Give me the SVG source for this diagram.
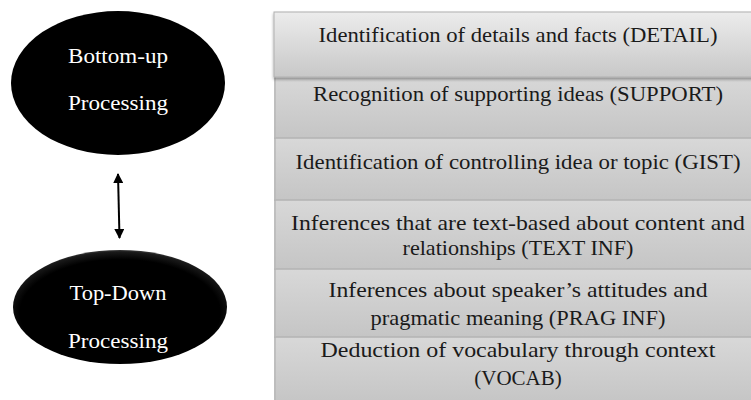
<svg xmlns="http://www.w3.org/2000/svg" width="751" height="400" viewBox="0 0 751 400">
  <defs>
    <linearGradient id="boxGrad" x1="0" y1="0" x2="0" y2="1">
      <stop offset="0" stop-color="#d8d8d8"/>
      <stop offset="1" stop-color="#c5c5c5"/>
    </linearGradient>
    <linearGradient id="box1Grad" x1="0" y1="0" x2="0" y2="1">
      <stop offset="0" stop-color="#ececec"/>
      <stop offset="1" stop-color="#c8c8c8"/>
    </linearGradient>
    <radialGradient id="ellGloss" cx="0.5" cy="0.55" r="0.55">
      <stop offset="0.85" stop-color="#000"/>
      <stop offset="0.97" stop-color="#1a1a1a"/>
      <stop offset="1" stop-color="#3a3a3a"/>
    </radialGradient>
    <filter id="shadow" x="-10%" y="-20%" width="120%" height="150%">
      <feGaussianBlur in="SourceAlpha" stdDeviation="1.5"/>
      <feOffset dx="0" dy="2" result="b"/>
      <feComponentTransfer><feFuncA type="linear" slope="0.35"/></feComponentTransfer>
      <feMerge><feMergeNode/><feMergeNode in="SourceGraphic"/></feMerge>
    </filter>
    <marker id="arrow" viewBox="0 0 10 10" refX="9" refY="5" markerWidth="5" markerHeight="5" orient="auto-start-reverse" markerUnits="strokeWidth">
      <path d="M0,0 L10,5 L0,10 z" fill="#000"/>
    </marker>
  </defs>
  <style>
    .box { fill: url(#boxGrad); }
    .sep { stroke: #b3b3b3; stroke-width: 1.5; }
    .edge { stroke: #b8b8b8; stroke-width: 1.5; }
    .lbl { font-family: "Liberation Serif", "DejaVu Serif", serif; font-size: 21px; fill: #1a1a1a; text-anchor: middle; }
    .wlbl { font-family: "Liberation Serif", "DejaVu Serif", serif; font-size: 21px; fill: #ffffff; text-anchor: middle; }
  </style>
  <rect width="751" height="400" fill="#ffffff"/>

  <g id="node-bottom-up">
    <ellipse cx="118" cy="83" rx="107" ry="72" fill="#000"/>
    <text class="wlbl" x="118" y="63" textLength="100" lengthAdjust="spacingAndGlyphs">Bottom-up</text>
    <text class="wlbl" x="118" y="110" textLength="100" lengthAdjust="spacingAndGlyphs">Processing</text>
  </g>

  <g id="node-top-down">
    <ellipse cx="120" cy="307" rx="107" ry="57" fill="url(#ellGloss)"/>
    <text class="wlbl" x="118" y="300" textLength="97" lengthAdjust="spacingAndGlyphs">Top-Down</text>
    <text class="wlbl" x="118" y="348" textLength="100" lengthAdjust="spacingAndGlyphs">Processing</text>
  </g>

  <g id="connectors">
    <line x1="118" y1="174" x2="119.5" y2="238" stroke="#000" stroke-width="2" marker-start="url(#arrow)" marker-end="url(#arrow)"/>
  </g>

  <g id="node-vocab">
    <rect class="box" x="274" y="337" width="480" height="66"/>
    <line class="edge" x1="275" y1="337" x2="275" y2="400"/>
    <text class="lbl" x="518" y="357" textLength="395" lengthAdjust="spacingAndGlyphs">Deduction of vocabulary through context</text>
    <text class="lbl" x="518" y="385">(VOCAB)</text>
  </g>

  <g id="node-prag">
    <rect class="box" x="274" y="269" width="480" height="68"/>
    <line class="sep" x1="274" y1="337" x2="751" y2="337"/>
    <line class="edge" x1="275" y1="269" x2="275" y2="337"/>
    <text class="lbl" x="518" y="297" textLength="379" lengthAdjust="spacingAndGlyphs">Inferences about speaker’s attitudes and</text>
    <text class="lbl" x="518" y="325" textLength="295" lengthAdjust="spacingAndGlyphs">pragmatic meaning (PRAG INF)</text>
  </g>

  <g id="node-text-inf">
    <rect class="box" x="274" y="200" width="480" height="69"/>
    <line class="sep" x1="274" y1="269" x2="751" y2="269"/>
    <line class="edge" x1="275" y1="200" x2="275" y2="269"/>
    <text class="lbl" x="518" y="230" textLength="454" lengthAdjust="spacingAndGlyphs">Inferences that are text-based about content and</text>
    <text class="lbl" x="518" y="255" textLength="231" lengthAdjust="spacingAndGlyphs">relationships (TEXT INF)</text>
  </g>

  <g id="node-gist">
    <rect class="box" x="274" y="138" width="480" height="62"/>
    <line class="sep" x1="274" y1="200" x2="751" y2="200"/>
    <line class="edge" x1="275" y1="138" x2="275" y2="200"/>
    <text class="lbl" x="518" y="169" textLength="445" lengthAdjust="spacingAndGlyphs">Identification of controlling idea or topic (GIST)</text>
  </g>

  <g id="node-support">
    <rect class="box" x="274" y="77" width="480" height="61"/>
    <line class="sep" x1="274" y1="138" x2="751" y2="138"/>
    <line class="edge" x1="275" y1="77" x2="275" y2="138"/>
    <text class="lbl" x="518" y="101" textLength="410" lengthAdjust="spacingAndGlyphs">Recognition of supporting ideas (SUPPORT)</text>
  </g>

  <g id="node-detail">
    <rect x="274" y="12" width="480" height="65" fill="url(#box1Grad)" stroke="#b0b0b0" stroke-width="1" filter="url(#shadow)"/>
    <text class="lbl" x="518" y="42" textLength="399" lengthAdjust="spacingAndGlyphs">Identification of details and facts (DETAIL)</text>
  </g>
</svg>
